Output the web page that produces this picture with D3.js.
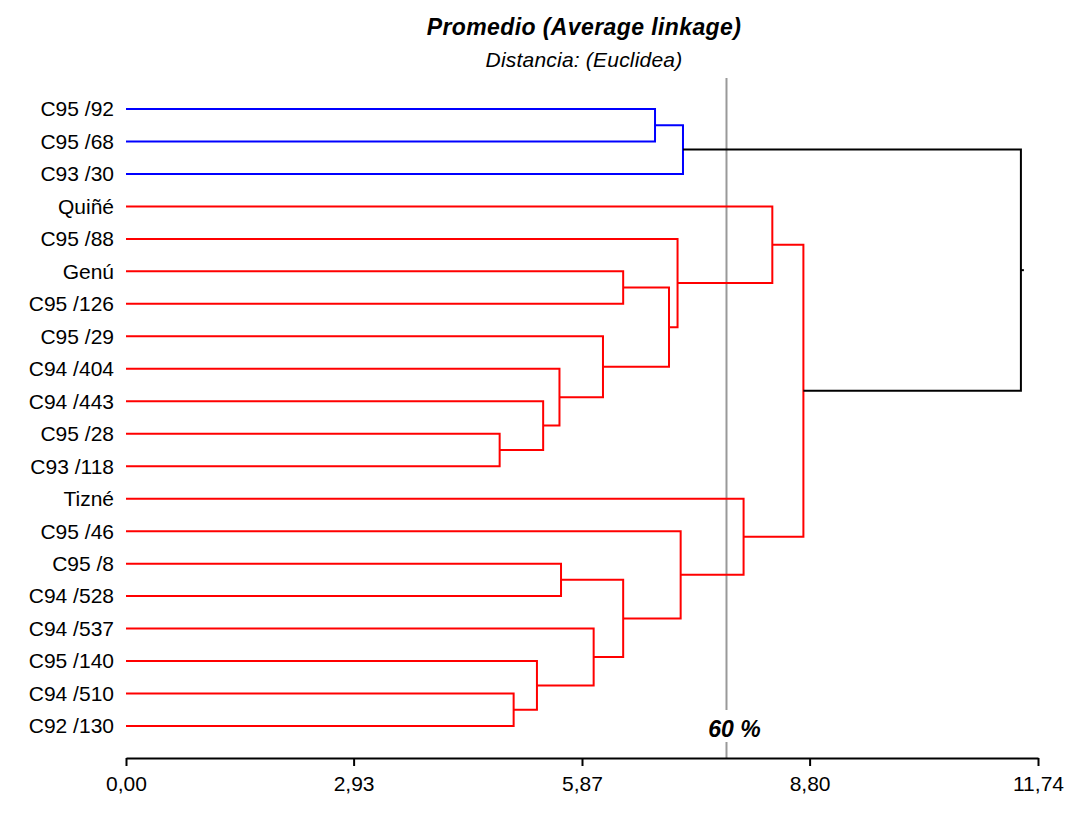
<!DOCTYPE html>
<html>
<head>
<meta charset="utf-8">
<script src="https://cdn.jsdelivr.net/npm/d3@7"></script>
<style>
  body { margin: 0; background: #fff; }
  svg { font-family: "Liberation Sans", Arial, sans-serif; }
</style>
</head>
<body>
<div id="Dendro"></div>
<script>
// DATA
const leaves = ["C95 /92", "C95 /68", "C93 /30", "Quiñé", "C95 /88", "Genú", "C95 /126",
    "C95 /29", "C94 /404", "C94 /443", "C95 /28", "C93 /118", "Tizné", "C95 /46",
    "C95 /8", "C94 /528", "C94 /537", "C95 /140", "C94 /510", "C92 /130"];

// merges: [childA, childB, distance]; index < 20 = leaf, >= 20 = earlier merge
const merges = [
    [0, 1, 6.81], [20, 2, 7.17],
    [10, 11, 4.81], [9, 22, 5.37], [8, 23, 5.58], [7, 24, 6.14],
    [5, 6, 6.40], [26, 25, 6.99], [4, 27, 7.10], [3, 28, 8.32],
    [18, 19, 4.99], [17, 30, 5.29], [16, 31, 6.02], [14, 15, 5.60],
    [33, 32, 6.40], [13, 34, 7.14], [12, 35, 7.95],
    [29, 36, 8.72], [21, 37, 11.52]
];

const tickValues = [0, 2.93, 5.87, 8.80, 11.74];
const cutValue = 7.73;
const cutLabel = "60 %";
const title = "Promedio (Average linkage)";
const subtitle = "Distancia: (Euclidea)";

// MAIN
const w = 1065, h = 827;
const svg = d3.select("#Dendro").append("svg")
    .attr("width", w)
    .attr("height", h);

// SCALES
const x = d3.scaleLinear().domain([0, 11.74]).range([126, 1038]);
const y = d3.scalePoint().domain(d3.range(leaves.length)).range([109, 726]);

const n = leaves.length;
const pos = leaves.map((d, i) => ({ v: 0, y: y(i) }));
merges.forEach(m => pos.push({ v: m[2], y: (pos[m[0]].y + pos[m[1]].y) / 2 }));

// cluster colours: subtrees under the root
const rootIdx = n + merges.length - 1;
const clusterColor = {};
clusterColor[merges[merges.length - 1][0]] = "#0000ff";
clusterColor[merges[merges.length - 1][1]] = "#ff0000";
const colorOf = new Array(pos.length).fill("#000");
for (let k = merges.length - 2; k >= 0; k--) {
    const id = n + k;
    if (clusterColor[id]) {
        colorOf[id] = clusterColor[id];
    } else {
        const parent = merges.findIndex(m => m[0] === id || m[1] === id);
        colorOf[id] = colorOf[n + parent];
    }
}

// cut line
svg.append("line")
    .attr("x1", x(cutValue)).attr("x2", x(cutValue))
    .attr("y1", 78).attr("y2", 710)
    .attr("stroke", "#999").attr("stroke-width", 2);
svg.append("line")
    .attr("x1", x(cutValue)).attr("x2", x(cutValue))
    .attr("y1", 742).attr("y2", 758)
    .attr("stroke", "#999").attr("stroke-width", 2);
svg.append("text")
    .attr("x", x(cutValue) + 8).attr("y", 737)
    .attr("text-anchor", "middle")
    .attr("font-size", 23).attr("font-weight", "bold").attr("font-style", "italic")
    .text(cutLabel);

// LINKS
svg.append("g").selectAll("path")
    .data(merges).enter().append("path")
    .attr("fill", "none")
    .attr("stroke-width", 2)
    .attr("stroke", (d, k) => colorOf[n + k])
    .attr("d", d => {
        const a = pos[d[0]], b = pos[d[1]];
        return "M" + x(a.v) + "," + a.y + "H" + x(d[2]) + "V" + b.y + "H" + x(b.v);
    });

// root stub
svg.append("line")
    .attr("x1", x(pos[rootIdx].v)).attr("x2", x(pos[rootIdx].v) + 3)
    .attr("y1", pos[rootIdx].y).attr("y2", pos[rootIdx].y)
    .attr("stroke", "#000").attr("stroke-width", 2);

// LEAF LABELS
svg.append("g").selectAll("text")
    .data(leaves).enter().append("text")
    .attr("x", 114)
    .attr("y", (d, i) => y(i))
    .attr("dy", "0.35em")
    .attr("text-anchor", "end")
    .attr("font-size", 21)
    .text(d => d);

// AXIS
const fmt = d3.formatLocale({ decimal: ",", thousands: ".", grouping: [3], currency: ["", ""] }).format(".2f");
const axis = svg.append("g")
    .attr("transform", "translate(0,758)")
    .call(d3.axisBottom(x).tickValues(tickValues).tickSize(8).tickSizeOuter(0).tickPadding(10).tickFormat(fmt));
axis.select(".domain").attr("stroke-width", 2);
axis.selectAll(".tick line").attr("stroke-width", 2);
axis.selectAll(".tick text").attr("font-size", 21).attr("font-family", "Liberation Sans, Arial, sans-serif").attr("fill", "#000");

// TITLES
svg.append("text")
    .attr("x", 584).attr("y", 35)
    .attr("text-anchor", "middle")
    .attr("font-size", 23).attr("font-weight", "bold").attr("font-style", "italic")
    .attr("letter-spacing", 0.4)
    .text(title);
svg.append("text")
    .attr("x", 584).attr("y", 67)
    .attr("text-anchor", "middle")
    .attr("font-size", 21).attr("font-style", "italic")
    .attr("letter-spacing", 0.2)
    .text(subtitle);
</script>
</body>
</html>
